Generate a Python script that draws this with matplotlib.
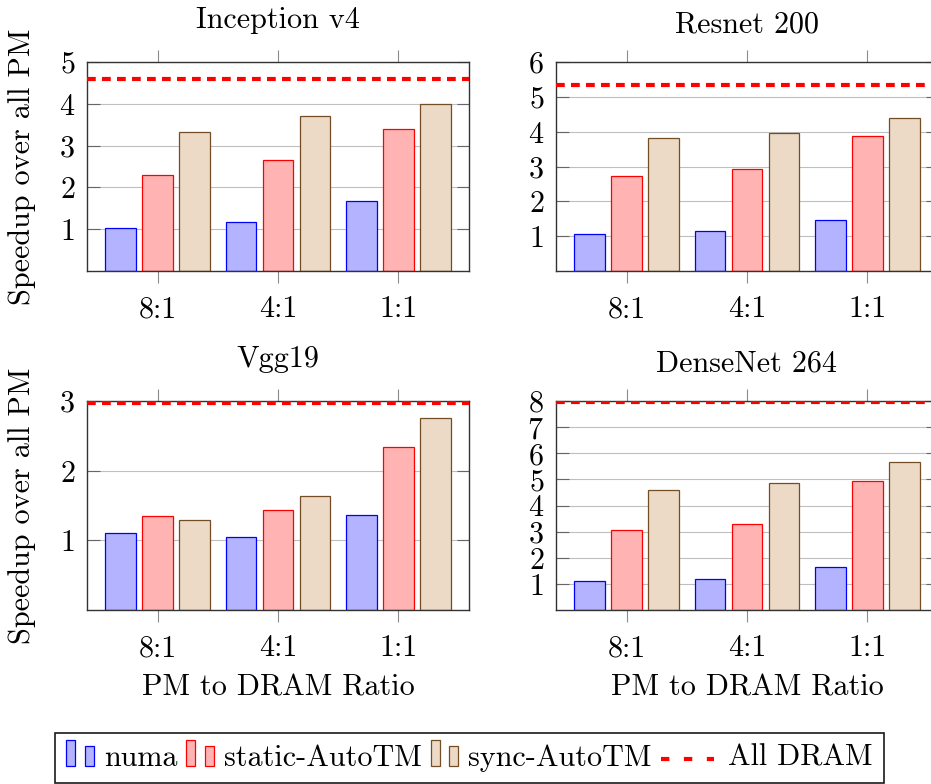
import numpy as np
import matplotlib
matplotlib.use('Agg')
import matplotlib.pyplot as plt
from matplotlib.patches import Rectangle, Patch
from matplotlib.lines import Line2D
from matplotlib.legend_handler import HandlerBase

plt.rcParams['font.family'] = 'serif'
plt.rcParams['font.serif'] = ['cmr10']
plt.rcParams['mathtext.fontset'] = 'cm'
plt.rcParams['axes.formatter.use_mathtext'] = True
plt.rcParams['font.size'] = 21.7

categories = ['8:1', '4:1', '1:1']
titles = ['Inception v4', 'Resnet 200', 'Vgg19', 'DenseNet 264']
series_names = ['numa', 'static-AutoTM', 'sync-AutoTM', 'All DRAM']

inception_numa = [1.03, 1.17, 1.68]
inception_static = [2.30, 2.65, 3.40]
inception_sync = [3.33, 3.71, 4.00]
inception_dram = 4.59

resnet_numa = [1.07, 1.15, 1.47]
resnet_static = [2.73, 2.94, 3.88]
resnet_sync = [3.82, 3.95, 4.38]
resnet_dram = 5.35

vgg_numa = [1.10, 1.05, 1.36]
vgg_static = [1.35, 1.43, 2.34]
vgg_sync = [1.29, 1.64, 2.75]
vgg_dram = 2.97

densenet_numa = [1.10, 1.18, 1.65]
densenet_static = [3.08, 3.31, 4.92]
densenet_sync = [4.60, 4.87, 5.66]
densenet_dram = 7.98

y_max = [5, 6, 3, 8]

numa_fc, numa_ec = (0.7, 0.7, 1.0), 'blue'
static_fc, static_ec = (1.0, 0.7, 0.7), 'red'
sync_fc, sync_ec = (0.925, 0.85, 0.775), (0.45, 0.3, 0.15)

panels = [
    (inception_numa, inception_static, inception_sync, inception_dram),
    (resnet_numa, resnet_static, resnet_sync, resnet_dram),
    (vgg_numa, vgg_static, vgg_sync, vgg_dram),
    (densenet_numa, densenet_static, densenet_sync, densenet_dram),
]

fig = plt.figure(figsize=(9.31, 7.84), dpi=100)

# axes boxes in pixels (left, top) of the reference
W, H = 931.0, 784.0
boxes = [(87, 62), (556, 62), (87, 401), (556, 401)]
aw, ah = 382.0, 209.0
title_y = [1.163, 1.139, 1.164, 1.14]

x = np.arange(len(categories))
bw = 0.258
off = 0.308

for i, (numa, static, sync, dram) in enumerate(panels):
    l, t = boxes[i]
    ax = fig.add_axes([l / W, 1 - (t + ah) / H, aw / W, ah / H])
    ax.bar(x - off, numa, bw, color=numa_fc, edgecolor=numa_ec, lw=0.9)
    ax.bar(x, static, bw, color=static_fc, edgecolor=static_ec, lw=0.9)
    ax.bar(x + off, sync, bw, color=sync_fc, edgecolor=sync_ec, lw=0.9)
    ax.axhline(dram, color='red', lw=3.0, ls=(0, (2.1, 1.5)), zorder=4)
    ax.set_xlim(-0.59, 2.59)
    ax.set_ylim(0, y_max[i])
    ax.set_xticks(x, categories)
    ax.set_yticks(range(1, y_max[i] + 1))
    ax.tick_params(axis='x', direction='out', top=True, bottom=True,
                   length=8.6, pad=9.0, width=0.8, color='0.55')
    ax.tick_params(axis='y', direction='in', left=True, right=True,
                   length=9, pad=8.6, width=0.8, color='0.4')
    ax.grid(axis='y', color='0.75', lw=0.8)
    ax.set_axisbelow(True)
    for s in ax.spines.values():
        s.set_linewidth(1.0)
        s.set_color('0.2')
    ax.text(0.5, title_y[i], titles[i], transform=ax.transAxes,
            ha='center', va='baseline')
    if i % 2 == 0:
        ax.set_ylabel('Speedup over all PM')
        ax.yaxis.set_label_coords(-0.1335, 0.5)
    if i >= 2:
        ax.set_xlabel('PM to DRAM Ratio')
        ax.xaxis.set_label_coords(0.5, -0.303)


class TwoBars(HandlerBase):
    def create_artists(self, legend, orig_handle, xdescent, ydescent,
                       width, height, fontsize, trans):
        fc = orig_handle.get_facecolor()
        ec = orig_handle.get_edgecolor()
        bw_ = width * 0.32
        r1 = Rectangle((-xdescent, -ydescent), bw_, height * 1.22,
                       facecolor=fc, edgecolor=ec, lw=0.9, transform=trans)
        r2 = Rectangle((-xdescent + width * 0.65, -ydescent), bw_, height * 0.93,
                       facecolor=fc, edgecolor=ec, lw=0.9, transform=trans)
        return [r1, r2]


class LongDash(HandlerBase):
    def create_artists(self, legend, orig_handle, xdescent, ydescent,
                       width, height, fontsize, trans):
        y = -ydescent + height * 0.35
        ln = Line2D([-xdescent, -xdescent + width * 1.85], [y, y],
                    color='red', lw=3.0, ls=(0, (2.0, 3.5)), transform=trans)
        return [ln]


h_numa = Patch(facecolor=numa_fc, edgecolor=numa_ec)
h_static = Patch(facecolor=static_fc, edgecolor=static_ec)
h_sync = Patch(facecolor=sync_fc, edgecolor=sync_ec)
h_dram = Line2D([], [], color='red')

leg = fig.legend([h_numa, h_static, h_sync, h_dram],
                 [series_names[0], series_names[1], series_names[2], '   ' + series_names[3]],
                 handler_map={Patch: TwoBars(), Line2D: LongDash()},
                 loc='center', bbox_to_anchor=(469.5 / W, 1 - 758 / H),
                 ncol=4, handlelength=0.95, handletextpad=0.3, columnspacing=0.3,
                 borderpad=0.35, fancybox=False, framealpha=1, edgecolor='0.1')
leg.get_frame().set_linewidth(1.2)

fig.savefig('out.png', dpi=100)
